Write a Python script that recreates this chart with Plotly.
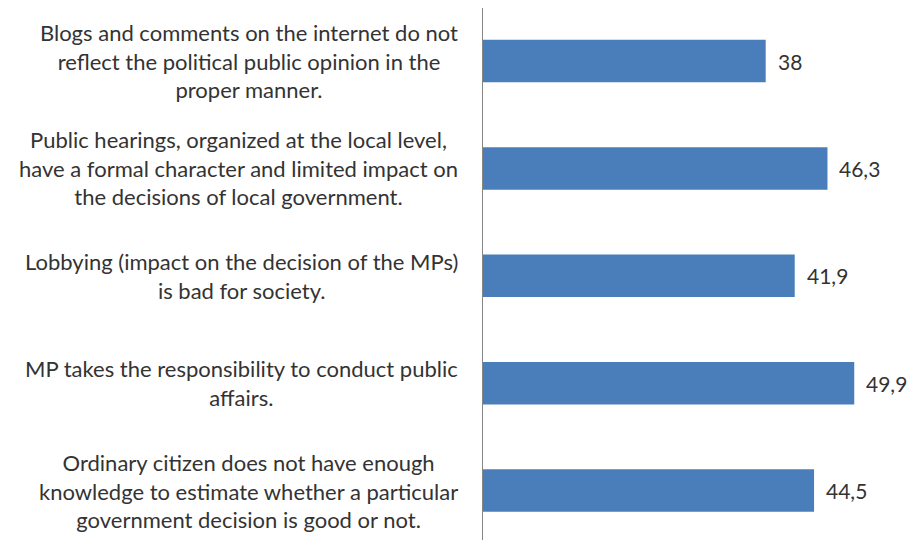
import plotly.graph_objects as go

# Statements (wrapped as in the source chart) and their shares, %
statements = [
    "Blogs and comments on the internet do not<br>reflect the political public opinion in the<br>proper manner.",
    "Public hearings, organized at the local level,<br>have a formal character and limited impact on<br>the decisions of local government.",
    "Lobbying (impact on the decision of the MPs)<br>is bad for society.",
    "MP takes the responsibility to conduct public<br>affairs.",
    "Ordinary citizen does not have enough<br>knowledge to estimate whether a particular<br>government decision is good or not.",
]
values = [38, 46.3, 41.9, 49.9, 44.5]

BAR_COLOR = "#4a7ebb"
TEXT_COLOR = "#333333"
FONT = "Lato, 'Open Sans', sans-serif"

positions = list(range(len(statements)))

fig = go.Figure()
fig.add_trace(
    go.Bar(
        x=values,
        y=positions,
        orientation="h",
        width=0.396,
        marker=dict(color=BAR_COLOR, line=dict(width=0)),
        hoverinfo="skip",
    )
)

# value labels to the right of each bar, decimal comma
for pos, val in zip(positions, values):
    fig.add_annotation(
        x=val,
        y=pos,
        xref="x",
        yref="y",
        text=f"{val:g}".replace(".", ","),
        showarrow=False,
        xanchor="left",
        xshift=10,
        font=dict(size=21, color=TEXT_COLOR, family=FONT),
    )

# category text blocks, right edge just left of the axis, lines centred
for pos, label in zip(positions, statements):
    fig.add_annotation(
        x=-0.054,
        y=pos,
        xref="paper",
        yref="y",
        text=label,
        showarrow=False,
        xanchor="right",
        align="center",
        font=dict(size=22, color=TEXT_COLOR, family=FONT),
    )

# page body has an 8px margin, so the figure is sized to the visible area
fig.update_layout(
    width=908,
    height=532,
    paper_bgcolor="#ffffff",
    plot_bgcolor="#ffffff",
    margin=dict(l=475, r=0, t=0, b=0),
    showlegend=False,
    font=dict(family=FONT, color=TEXT_COLOR),
)
fig.update_xaxes(
    range=[0, 58.2],
    showgrid=False,
    zeroline=False,
    showticklabels=False,
    showline=False,
    ticks="",
)
fig.update_yaxes(
    range=[4.46, -0.4935],
    showgrid=False,
    zeroline=False,
    showticklabels=False,
    showline=True,
    linecolor="#868686",
    linewidth=1,
    ticks="",
)

fig.write_html("out.html")
